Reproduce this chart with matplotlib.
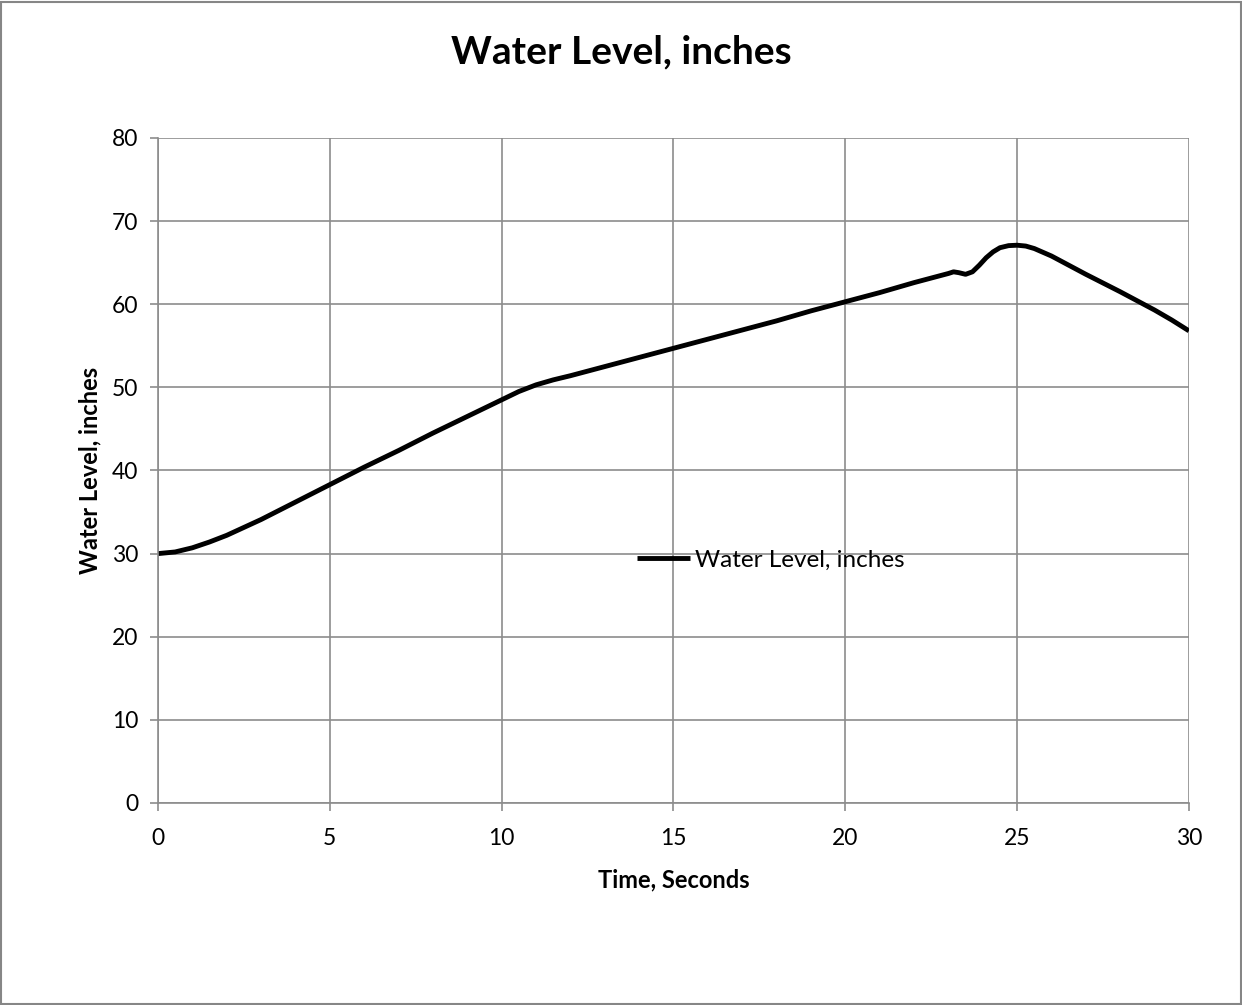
import matplotlib
matplotlib.use("Agg")
import matplotlib.pyplot as plt
from matplotlib.patches import Rectangle

time_s = [0, 0.5, 1, 1.5, 2, 3, 4, 5, 6, 7, 8, 9, 10, 10.5, 11, 11.5, 12, 13, 14, 15, 16, 17, 18, 19, 20, 21, 22, 23, 23.15,
          23.3, 23.5, 23.7, 23.9, 24.1, 24.3, 24.5, 24.75, 25.0, 25.25, 25.5, 26, 26.5, 27, 28, 29, 29.5, 30]
water_level = [30.0, 30.2, 30.7, 31.4, 32.2, 34.1, 36.2, 38.3, 40.4, 42.4, 44.5, 46.5, 48.5, 49.5, 50.3, 50.9, 51.4, 52.5, 53.6, 54.7,
               55.8, 56.9, 58.0, 59.2, 60.3, 61.4, 62.6, 63.7, 63.9, 63.8, 63.6, 63.9, 64.7, 65.6, 66.3, 66.8, 67.05, 67.1, 67.0, 66.7,
               65.8, 64.7, 63.6, 61.5, 59.3, 58.1, 56.8]

x_ticks = [0, 5, 10, 15, 20, 25, 30]
y_ticks = [0, 10, 20, 30, 40, 50, 60, 70, 80]

plt.rcParams['font.family'] = ['Lato', 'DejaVu Sans']

fig = plt.figure(figsize=(12.42, 10.05), dpi=100)
fig.patches.append(Rectangle((0.001, 0.001), 0.998, 0.997, transform=fig.transFigure,
                             fill=False, edgecolor='#868686', linewidth=1.5))
ax = fig.add_axes([0.1272, 0.201, 0.8301, 0.6617])

ax.plot(time_s, water_level, color='black', linewidth=3.5, solid_capstyle='butt',
        solid_joinstyle='round', label='Water Level, inches')

ax.set_xlim(0, 30)
ax.set_ylim(0, 80)
ax.set_xticks(x_ticks)
ax.set_yticks(y_ticks)
ax.grid(True, color='#8c8c8c', linewidth=1.2)
ax.set_axisbelow(True)
for s in ['top', 'right']:
    ax.spines[s].set_visible(False)
for s in ['left', 'bottom']:
    ax.spines[s].set_color('#8c8c8c')
    ax.spines[s].set_linewidth(1.2)
ax.tick_params(axis='both', direction='out', length=6, width=1.2, color='#8c8c8c',
               labelsize=16.5)
ax.tick_params(axis='x', pad=12)
ax.tick_params(axis='y', pad=8)

ax.set_xlabel('Time, Seconds', fontsize=17, fontweight='bold', labelpad=14)
ax.set_ylabel('Water Level, inches', fontsize=17, fontweight='bold', labelpad=8)
fig.suptitle('Water Level, inches', fontsize=28, fontweight='bold', y=0.966)

ax.legend(loc='center left', bbox_to_anchor=(0.455, 0.365), frameon=False, fontsize=17.5,
          handlelength=2.2, handletextpad=0.2, borderaxespad=0)

fig.savefig('out.png', dpi=100)
